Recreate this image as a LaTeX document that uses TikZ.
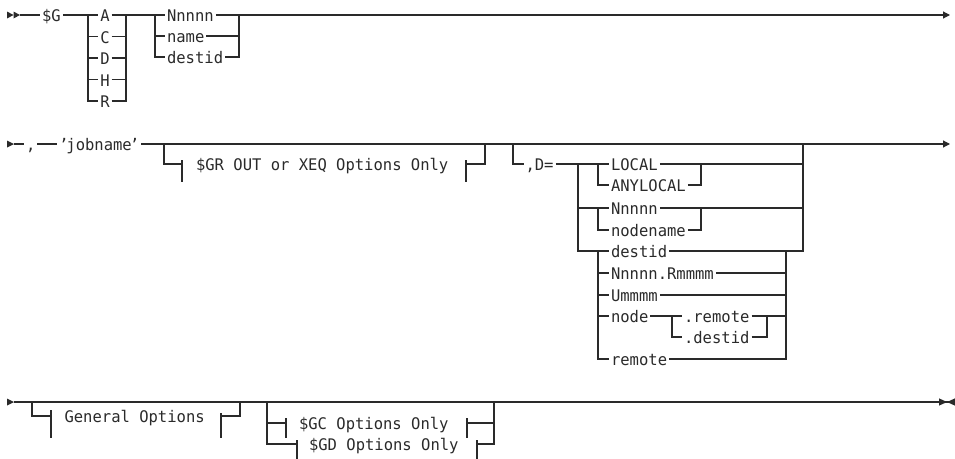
\documentclass[tikz,border=0pt]{standalone}
\usepackage{fontspec}
\newfontfamily\railfont[FakeStretch=0.97]{DejaVu Sans Mono}
\usetikzlibrary{arrows.meta,positioning}
\definecolor{Rail}{HTML}{2A2A2A}

\begin{document}
\begin{tikzpicture}[x=1pt, y=-1pt, line width=1.1pt, color=Rail,
    word/.style={font=\railfont\fontsize{16pt}{18pt}\selectfont, inner xsep=1.5pt, inner ysep=0pt, text height=14pt, text depth=0.6pt, anchor=west},
    goon/.style={-{Triangle[length=7pt,width=7pt]}},
    stop/.style={-{Triangle[length=8pt,width=7pt]Triangle[reversed,length=8pt,width=7pt]}}]
  \useasboundingbox (0,0) rectangle (955,458);

  % first line: $G with type and target
  \coordinate (s1) at (7,15);
  \coordinate (e1) at (950,15);
  \node[word] (G) at (40,15) {\$G};
  \node[word, anchor=center] (A) at (105,15) {A};
  \node[word, anchor=center] (C) at (105,36.5) {C};
  \node[word, anchor=center] (D) at (105,58) {D};
  \node[word, anchor=center] (H) at (105,79.5) {H};
  \node[word, anchor=center] (R) at (105,101) {R};
  \coordinate (tl) at (88,15);
  \coordinate (tr) at (126,15);
  \node[word] (nnnnn) at (165,15) {Nnnnn};
  \node[word] (name) at (165,36) {name};
  \node[word] (destid) at (165,57) {destid};
  \coordinate (ml) at (155,15);
  \coordinate (mr) at (239,15);
  \fill ([yshift=3.5pt]s1) -- ([xshift=6.5pt]s1) -- ([yshift=-3.5pt]s1) -- cycle;
  \fill ([xshift=6.5pt,yshift=3.5pt]s1) -- ([xshift=13pt]s1) -- ([xshift=6.5pt,yshift=-3.5pt]s1) -- cycle;
  \draw ([xshift=13pt]s1) -- (G.west);
  \draw (G.east) -- (A.west) (A.east) -- (nnnnn.west);
  \draw[goon] (nnnnn.east) -- (e1);
  \foreach \k in {C,D,H}
    \draw (tl |- \k) -- (\k.west) (\k.east) -- (tr |- \k);
  \draw (tl) |- (R.west) (R.east) -| (tr);
  \draw (ml |- name) -- (name.west) (name.east) -- (mr |- name);
  \draw (ml) |- (destid.west) (destid.east) -| (mr);

  % second line: jobname and destination
  \coordinate (s2) at (7,144);
  \coordinate (e2) at (950,144);
  \node[word] (comma) at (24,144) {,};
  \node[word] (job) at (57,144) {’\kern-2pt jobname\kern-2pt’\ };
  \fill ([yshift=3.5pt]s2) -- ([xshift=7pt]s2) -- ([yshift=-3.5pt]s2) -- cycle;
  \draw ([xshift=7pt]s2) -- (comma.west);
  \draw (comma.east) -- (job.west);
  \draw[goon] (job.east) -- (e2);
  % $GR fragment
  \coordinate (grl) at (164,144);
  \coordinate (grr) at (485,144);
  \coordinate (gt1) at (182,164);
  \coordinate (gt2) at (466,164);
  \node[word] (gr) at (194,164) {\$GR OUT or XEQ Options Only};
  \draw (grl) |- (gt1) (gt2) -| (grr);
  \draw ([yshift=4pt]gt1) -- ([yshift=-18pt]gt1);
  \draw ([yshift=4pt]gt2) -- ([yshift=-18pt]gt2);
  % ,D= choices
  \coordinate (dl) at (513,144);
  \node[word] (deq) at (523.5,164) {,D=};
  \coordinate (ol) at (578,164);
  \coordinate (or) at (803,144);
  \coordinate (sl) at (598,164);
  \coordinate (sr) at (701,164);
  \node[word] (local) at (609,164) {LOCAL};
  \node[word] (anylocal) at (609,185) {ANYLOCAL};
  \node[word] (nnnnn2) at (609,208) {Nnnnn};
  \node[word] (nodename) at (609,230) {nodename};
  \node[word] (destid2) at (609,251) {destid};
  \node[word] (nr) at (609,273) {Nnnnn.Rmmmm};
  \node[word] (um) at (609,295) {Ummmm};
  \node[word] (nd) at (609,316) {node};
  \node[word] (remote) at (609,359) {remote};
  \node[word] (dremote) at (682,316) {.remote};
  \node[word] (ddestid) at (682,337) {.destid};
  \coordinate (il) at (598,251);
  \coordinate (ir) at (786,251);
  \coordinate (nl) at (672,316);
  \coordinate (nx) at (767,316);
  \draw (dl) |- (deq.west);
  \draw (deq.east) -- (local.west) (local.east) -| (or);
  \draw (sl) |- (anylocal.west) (anylocal.east) -| (sr);
  \draw (ol |- nnnnn2) -- (nnnnn2.west) (nnnnn2.east) -- (or |- nnnnn2);
  \draw (sl |- nnnnn2) |- (nodename.west) (nodename.east) -| (sr |- nnnnn2);
  \draw (ol) |- (destid2.west) (destid2.east) -| (or);
  \draw (il) |- (remote.west) (remote.east) -| (ir);
  \foreach \k in {nr,um}
    \draw (il |- \k) -- (\k.west) (\k.east) -- (ir |- \k);
  \draw (il |- nd) -- (nd.west) (nd.east) -- (dremote.west) (dremote.east) -- (ir |- nd);
  \draw (nl) |- (ddestid.west) (ddestid.east) -| (nx);

  % third line: options
  \coordinate (s3) at (7,402);
  \coordinate (e3) at (955,402);
  \fill ([yshift=3.5pt]s3) -- ([xshift=7pt]s3) -- ([yshift=-3.5pt]s3) -- cycle;
  \draw[stop] ([xshift=7pt]s3) -- (e3);
  \coordinate (genl) at (32,402);
  \coordinate (genr) at (240,402);
  \coordinate (nt1) at (51,416);
  \coordinate (nt2) at (221,416);
  \node[word] (gen) at (62.5,416) {General Options};
  \draw (genl) |- (nt1) (nt2) -| (genr);
  \draw ([yshift=6pt]nt1) -- ([yshift=-22pt]nt1);
  \draw ([yshift=3pt]nt2) -- ([yshift=-22pt]nt2);
  \coordinate (gcl) at (267,402);
  \coordinate (gcr) at (494,402);
  \coordinate (ct1) at (286,423);
  \coordinate (ct2) at (467,423);
  \coordinate (dt1) at (297,444);
  \coordinate (dt2) at (477,444);
  \node[word] (gc) at (297,423) {\$GC Options Only};
  \node[word] (gd) at (307,444) {\$GD Options Only};
  \draw (gcl) |- (ct1) (ct2) -| (gcr);
  \draw (gcl) |- (dt1) (dt2) -| (gcr);
  \foreach \t in {ct1,ct2}
    \draw ([yshift=5pt]\t) -- ([yshift=-15pt]\t);
  \foreach \t in {dt1,dt2}
    \draw ([yshift=4pt]\t) -- ([yshift=-16pt]\t);
\end{tikzpicture}
\end{document}
